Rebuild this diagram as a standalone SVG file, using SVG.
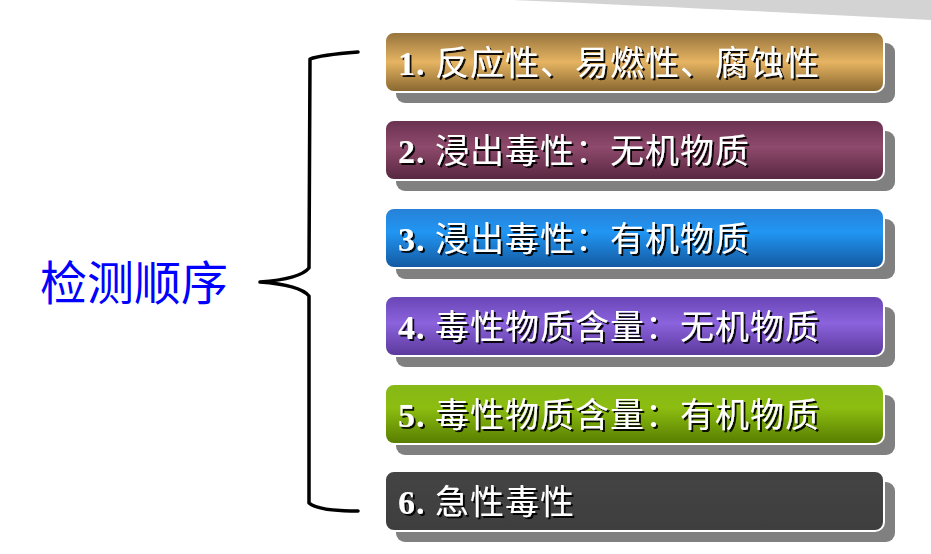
<svg xmlns="http://www.w3.org/2000/svg" width="931" height="554" viewBox="0 0 931 554">
<defs>
<linearGradient id="g1" x1="0" y1="0" x2="0" y2="1"><stop offset="0" stop-color="#94723c"/><stop offset="0.5" stop-color="#e6b462"/><stop offset="1" stop-color="#86652f"/></linearGradient>
<linearGradient id="g2" x1="0" y1="0" x2="0" y2="1"><stop offset="0" stop-color="#6a3150"/><stop offset="0.45" stop-color="#8f4a6c"/><stop offset="1" stop-color="#56263f"/></linearGradient>
<linearGradient id="g3" x1="0" y1="0" x2="0" y2="1"><stop offset="0" stop-color="#2780d6"/><stop offset="0.4" stop-color="#2196f3"/><stop offset="1" stop-color="#13589f"/></linearGradient>
<linearGradient id="g4" x1="0" y1="0" x2="0" y2="1"><stop offset="0" stop-color="#6845b5"/><stop offset="0.45" stop-color="#8b63dd"/><stop offset="1" stop-color="#5a389a"/></linearGradient>
<linearGradient id="g5" x1="0" y1="0" x2="0" y2="1"><stop offset="0" stop-color="#86b818"/><stop offset="0.4" stop-color="#8cbd10"/><stop offset="1" stop-color="#567c00"/></linearGradient>
<linearGradient id="g6" x1="0" y1="0" x2="0" y2="1"><stop offset="0" stop-color="#444444"/><stop offset="1" stop-color="#3e3e3e"/></linearGradient>
<filter id="ts" x="-5%" y="-20%" width="110%" height="150%"><feDropShadow dx="2" dy="2" stdDeviation="0.6" flood-color="#000" flood-opacity="0.9"/></filter>
</defs>
<style>
.sh{fill:#808080}
.bx{stroke:#ffffff;stroke-width:2}
.lb{font-family:"Liberation Serif","Noto Sans CJK SC",serif;font-weight:bold;font-size:34px;fill:#ffffff;letter-spacing:1px}
.cj{font-family:"Noto Sans CJK SC",sans-serif;font-weight:normal}
.br{fill:none;stroke:#000;stroke-width:3.5;stroke-linecap:round;stroke-linejoin:round}
.tt{font-family:"Noto Sans CJK SC","Liberation Serif",sans-serif;font-size:47px;fill:#0000ff}
</style>
<path d="M512,0 L931,0 L931,20 Q700,8 512,0 Z" fill="#d3d3d3"/>
<g id="connectors">
<path class="br" d="M358,52 Q320,55 310,59 L309,268 Q300,279 260,282 Q300,285 309,296 L309,503 Q318,511 358,511"/>
</g>
<g id="title"><text class="tt" x="40" y="300">检测顺序</text></g>
<g id="n1"><rect class="sh" x="396" y="43" width="499" height="60" rx="9"/><rect class="bx" x="385" y="32" width="499" height="60" rx="9" fill="url(#g1)"/><text class="lb" x="398" y="75" filter="url(#ts)">1. <tspan class="cj">反应性、易燃性、腐蚀性</tspan></text></g>
<g id="n2"><rect class="sh" x="396" y="131" width="499" height="60" rx="9"/><rect class="bx" x="385" y="120" width="499" height="60" rx="9" fill="url(#g2)"/><text class="lb" x="398" y="163" filter="url(#ts)">2. <tspan class="cj">浸出毒性：无机物质</tspan></text></g>
<g id="n3"><rect class="sh" x="396" y="219" width="499" height="60" rx="9"/><rect class="bx" x="385" y="208" width="499" height="60" rx="9" fill="url(#g3)"/><text class="lb" x="398" y="251" filter="url(#ts)">3. <tspan class="cj">浸出毒性：有机物质</tspan></text></g>
<g id="n4"><rect class="sh" x="396" y="307" width="499" height="60" rx="9"/><rect class="bx" x="385" y="296" width="499" height="60" rx="9" fill="url(#g4)"/><text class="lb" x="398" y="339" filter="url(#ts)">4. <tspan class="cj">毒性物质含量：无机物质</tspan></text></g>
<g id="n5"><rect class="sh" x="396" y="395" width="499" height="60" rx="9"/><rect class="bx" x="385" y="384" width="499" height="60" rx="9" fill="url(#g5)"/><text class="lb" x="398" y="427" filter="url(#ts)">5. <tspan class="cj">毒性物质含量：有机物质</tspan></text></g>
<g id="n6"><rect class="sh" x="396" y="482" width="499" height="60" rx="9"/><rect class="bx" x="385" y="471" width="499" height="60" rx="9" fill="url(#g6)"/><text class="lb" x="398" y="514" filter="url(#ts)">6. <tspan class="cj">急性毒性</tspan></text></g>
</svg>
